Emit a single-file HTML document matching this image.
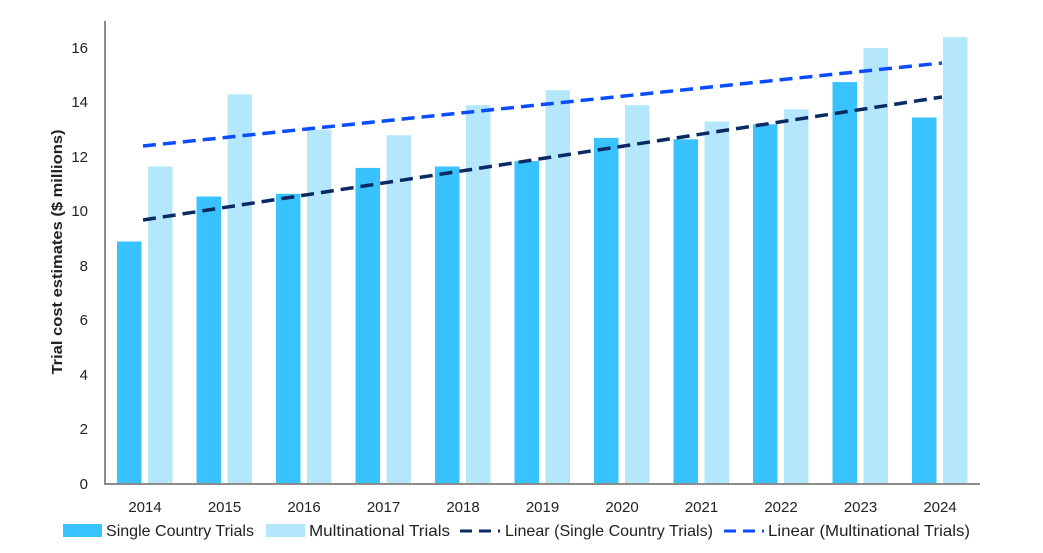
<!DOCTYPE html>
<html><head><meta charset="utf-8"><style>body{margin:0;background:#fff}svg{display:block}text{font-family:"Liberation Sans",sans-serif;fill:#222}</style></head><body>
<svg width="1043" height="553" xmlns="http://www.w3.org/2000/svg">
<g fill="#38c3ff">
<rect x="117" y="241.5" width="24.5" height="242.5"/>
<rect x="196.5" y="196.5" width="24.5" height="287.5"/>
<rect x="276" y="193.8" width="24.5" height="290.2"/>
<rect x="355.5" y="167.9" width="24.5" height="316.1"/>
<rect x="435" y="166.5" width="24.5" height="317.5"/>
<rect x="514.5" y="161.1" width="24.5" height="322.9"/>
<rect x="594" y="137.9" width="24.5" height="346.1"/>
<rect x="673.5" y="139.3" width="24.5" height="344.7"/>
<rect x="753" y="124.3" width="24.5" height="359.7"/>
<rect x="832.5" y="82.1" width="24.5" height="401.9"/>
<rect x="912" y="117.5" width="24.5" height="366.5"/>
</g>
<g fill="#b5e7fc">
<rect x="148" y="166.5" width="24.5" height="317.5"/>
<rect x="227.5" y="94.3" width="24.5" height="389.7"/>
<rect x="307" y="129.8" width="24.5" height="354.2"/>
<rect x="386.5" y="135.2" width="24.5" height="348.8"/>
<rect x="466" y="105.2" width="24.5" height="378.8"/>
<rect x="545.5" y="90.2" width="24.5" height="393.8"/>
<rect x="625" y="105.2" width="24.5" height="378.8"/>
<rect x="704.5" y="121.6" width="24.5" height="362.4"/>
<rect x="784" y="109.3" width="24.5" height="374.7"/>
<rect x="863.5" y="48" width="24.5" height="436"/>
<rect x="943" y="37.1" width="24.5" height="446.9"/>
</g>
<line x1="143" y1="220" x2="942" y2="97" stroke="#0b2a64" stroke-width="3.5" stroke-dasharray="13,7"/>
<line x1="143" y1="146" x2="942" y2="63" stroke="#0a4dff" stroke-width="3.5" stroke-dasharray="13,7"/>
<line x1="105" y1="21" x2="105" y2="484" stroke="#8c8c8c" stroke-width="2"/>
<line x1="104" y1="484" x2="980" y2="484" stroke="#8c8c8c" stroke-width="2"/>
<g font-size="15" text-anchor="end">
<text x="88" y="489">0</text><text x="88" y="434">2</text><text x="88" y="380">4</text><text x="88" y="325">6</text><text x="88" y="271">8</text><text x="88" y="216">10</text><text x="88" y="162">12</text><text x="88" y="107">14</text><text x="88" y="53">16</text>
</g>
<text transform="translate(62,252) rotate(-90)" font-size="15" font-weight="bold" text-anchor="middle" textLength="245" lengthAdjust="spacingAndGlyphs">Trial cost estimates ($ millions)</text>
<g font-size="15" text-anchor="middle">
<text x="145" y="512">2014</text><text x="224.5" y="512">2015</text><text x="304" y="512">2016</text><text x="383.5" y="512">2017</text><text x="463" y="512">2018</text><text x="542.5" y="512">2019</text><text x="622" y="512">2020</text><text x="701.5" y="512">2021</text><text x="781" y="512">2022</text><text x="860.5" y="512">2023</text><text x="940" y="512">2024</text>
</g>
<g font-size="16">
<rect x="63" y="524" width="39" height="13" fill="#38c3ff"/><text x="106" y="536" textLength="148" lengthAdjust="spacingAndGlyphs">Single Country Trials</text>
<rect x="266" y="524" width="39" height="13" fill="#b5e7fc"/><text x="309" y="536" textLength="141" lengthAdjust="spacingAndGlyphs">Multinational Trials</text>
<line x1="460" y1="531" x2="500" y2="531" stroke="#0b2a64" stroke-width="3" stroke-dasharray="12,7"/><text x="505" y="536" textLength="208" lengthAdjust="spacingAndGlyphs">Linear (Single Country Trials)</text>
<line x1="724" y1="531" x2="764" y2="531" stroke="#0a4dff" stroke-width="3" stroke-dasharray="12,7"/><text x="768" y="536" textLength="202" lengthAdjust="spacingAndGlyphs">Linear (Multinational Trials)</text>
</g>
</svg>
</body></html>
